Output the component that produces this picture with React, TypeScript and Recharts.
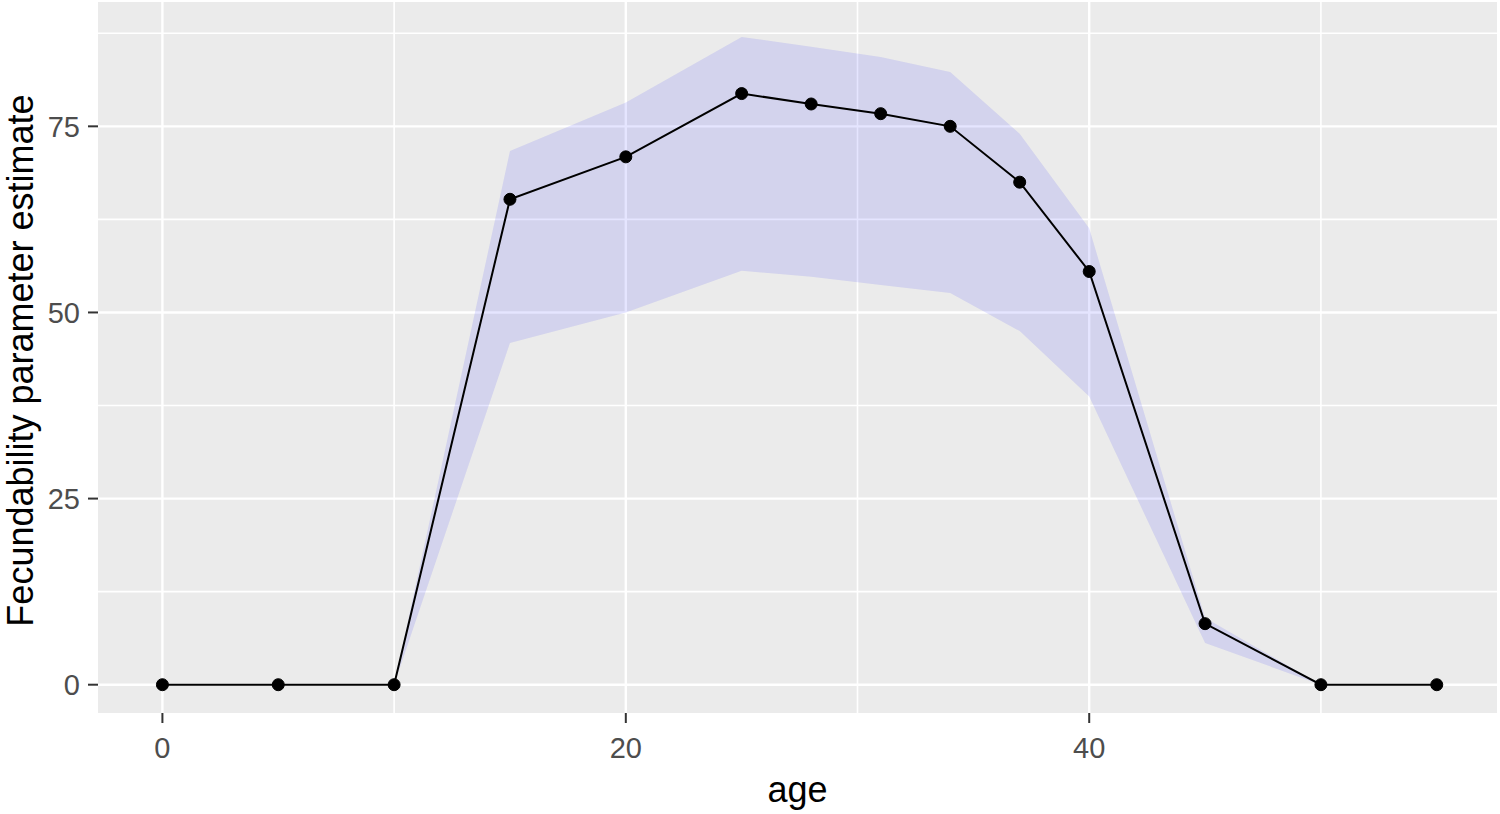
import React from 'react';
import { ComposedChart, Line, Area, XAxis, YAxis, CartesianGrid } from 'recharts';

// values
const ages = [0, 5, 10, 15, 20, 25, 28, 31, 34, 37, 40, 45, 50, 55];
const estimate = [0, 0, 0, 65.2, 70.9, 79.4, 78.0, 76.7, 75.0, 67.5, 55.5, 8.2, 0, 0];
const lower = [0, 0, 0, 45.9, 50.0, 55.6, 54.8, 53.7, 52.6, 47.5, 38.7, 5.6, 0, 0];
const upper = [0, 0, 0, 71.7, 78.2, 87.0, 85.7, 84.3, 82.3, 74.0, 61.3, 9.0, 0, 0];

const xTicks = [0, 20, 40];
const xMinor = [10, 30, 50];
const yTicks = [0, 25, 50, 75];
const yMinor = [12.5, 37.5, 62.5, 87.5];

const data = ages.map((age, i) => ({
  age,
  estimate: estimate[i],
  lower: lower[i],
  upper: upper[i],
}));

const FONT = '"Liberation Sans", Arial, sans-serif';

export default function App() {
  const tickStyle = { fill: '#4D4D4D', fontSize: 29, fontFamily: FONT };

  return (
    <div style={{ position: 'absolute', left: 0, top: 0, background: '#fff' }}>
      <ComposedChart
        width={1500}
        height={814}
        data={data}
        margin={{ top: 2, right: 3, left: 0, bottom: 0 }}
      >
        <CartesianGrid
          fill="#EBEBEB"
          stroke="#FFFFFF"
          strokeWidth={1.6}
          horizontalValues={yMinor}
          verticalValues={xMinor}
        />
        <CartesianGrid
          stroke="#FFFFFF"
          strokeWidth={2.4}
          horizontalValues={yTicks}
          verticalValues={xTicks}
        />
        <XAxis
          dataKey="age"
          type="number"
          domain={[-2.78, 57.6]}
          allowDataOverflow
          ticks={xTicks}
          axisLine={false}
          tickSize={10}
          tickMargin={14}
          tickLine={{ stroke: '#333333', strokeWidth: 2 }}
          tick={tickStyle}
          height={101}
          label={{
            content: ({ viewBox }: any) => (
              <text
                x={viewBox.x + viewBox.width / 2}
                y={802}
                textAnchor="middle"
                fill="#000"
                fontSize={36}
                fontFamily={FONT}
              >
                age
              </text>
            ),
          }}
        />
        <YAxis
          type="number"
          domain={[-3.8, 91.7]}
          allowDataOverflow
          ticks={yTicks}
          axisLine={false}
          tickSize={10}
          tickMargin={8}
          tickLine={{ stroke: '#333333', strokeWidth: 2 }}
          tick={tickStyle}
          width={98}
          label={{
            content: ({ viewBox }: any) => {
              const cy = viewBox.y + viewBox.height / 2 + 3;
              return (
                <text
                  x={33}
                  y={cy}
                  transform={`rotate(-90, 33, ${cy})`}
                  textAnchor="middle"
                  fill="#000"
                  fontSize={36}
                  fontFamily={FONT}
                >
                  Fecundability parameter estimate
                </text>
              );
            },
          }}
        />
        <Area
          type="linear"
          dataKey={(d: any) => [d.lower, d.upper]}
          stroke="none"
          fill="#0000FF"
          fillOpacity={0.1}
          isAnimationActive={false}
        />
        <Line
          type="linear"
          dataKey="estimate"
          stroke="#000"
          strokeWidth={2}
          dot={{ r: 6, fill: '#000', stroke: '#000', strokeWidth: 1 }}
          activeDot={false}
          isAnimationActive={false}
        />
      </ComposedChart>
    </div>
  );
}
